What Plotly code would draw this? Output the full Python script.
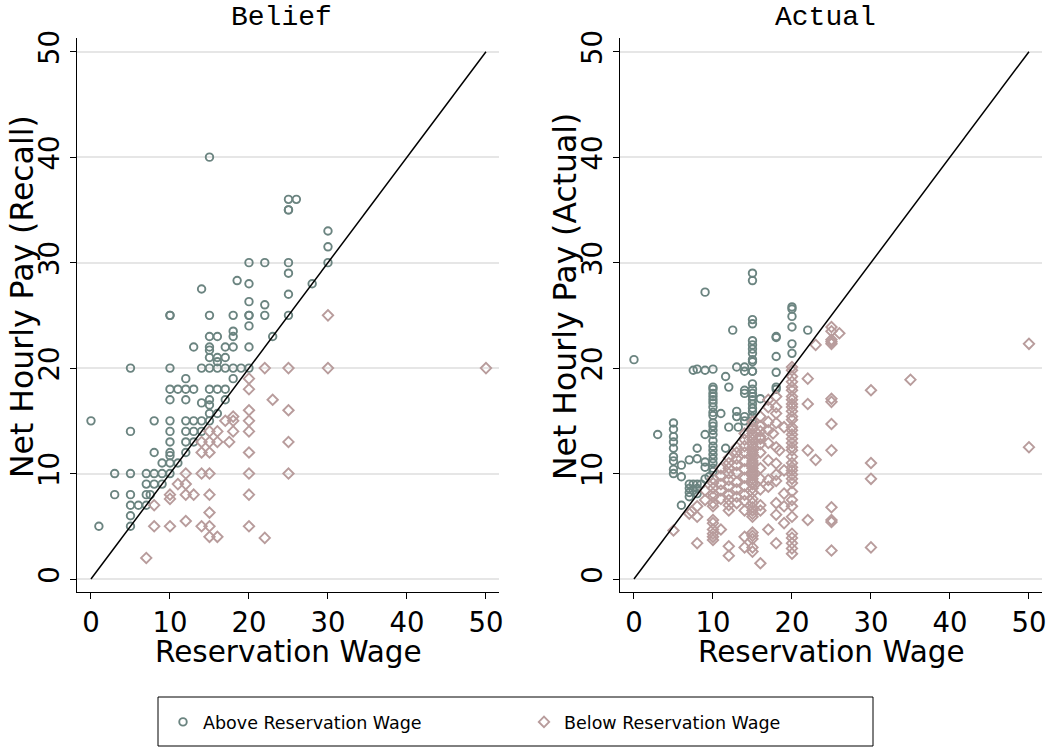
import plotly.graph_objects as go

# ---------------- data ----------------
ticks = [0, 10, 20, 30, 40, 50]
diag = [0, 50]

belief_above_x = [15, 25, 26, 25, 25, 30, 30, 30, 28, 20, 22, 25, 25, 25, 18.5, 20, 14, 20, 22, 25, 10, 10, 15, 18, 20, 20, 22,
                  20, 23, 15, 16, 18, 18, 13, 15, 15, 17, 18, 20, 15, 16, 17, 16, 5, 10, 14, 15, 16, 17, 18, 19, 20, 12, 18,
                  10, 11, 12, 13, 15, 16, 17, 10, 12, 15, 17, 14, 15, 15, 16, 0, 8, 10, 12, 13, 14, 15, 5, 10, 12, 13, 14,
                  10, 12, 13, 8, 10, 12, 10, 9, 10, 11, 3, 5, 7, 8, 9, 10, 7, 8, 9, 3, 5, 7, 7.5, 5, 6, 7, 5, 1, 5]
belief_above_y = [40, 36, 36, 35, 35, 33, 31.5, 30, 28, 30, 30, 30, 29, 27, 28.3, 28, 27.5, 26.3, 26, 25, 25, 25, 25, 25, 25, 25, 25,
                  24, 23, 23, 23, 23.5, 23, 22, 22, 21.7, 22, 22, 22, 21, 21, 21, 20.6, 20, 20, 20, 20, 20, 20, 20, 20, 20, 19, 19,
                  18, 18, 18, 18, 18, 18, 18, 17, 17, 17, 17, 16.7, 16.5, 15.7, 15.7, 15, 15, 15, 15, 15, 15, 15, 14, 14, 14, 14, 14,
                  13, 13, 13, 12, 12, 12, 11.7, 11, 11, 11, 10, 10, 10, 10, 10, 10, 9, 9, 9, 8, 8, 8, 8, 7, 7, 7, 6, 5, 5]

belief_below_x = [30, 22, 25, 30, 50, 20, 20, 23, 20, 25, 17, 18, 18, 20, 15, 16, 18, 20, 14, 15, 16, 17.5, 25, 14, 15, 20,
                  12, 14, 15, 20, 25, 11, 12, 10, 12, 13, 15, 20, 10, 8, 15, 8, 10, 12, 14, 15, 20, 15, 16, 22, 7]
belief_below_y = [25, 20, 20, 20, 20, 19, 18, 17, 16, 16, 15, 15, 15.4, 15, 14, 14, 14, 14, 13, 13, 13, 13, 13, 12, 12, 12,
                  10, 10, 10, 10, 10, 9, 9, 8, 8, 8, 8, 8, 7.6, 7, 6.3, 5, 5, 5.5, 5, 5, 5, 4, 4, 3.9, 2]

actual_above_x = ([0, 3] + [5] * 9 + [6, 6, 6, 7, 8, 9, 8, 9, 7.5, 8, 9, 10, 9]
                  + [7, 7.5, 8, 7, 7, 7.5, 7, 8, 8, 8.5, 9, 9, 9.5] + [10] * 21
                  + [11, 11.6, 12, 12.5, 13, 14, 14, 15, 13, 13, 12, 13.2, 14, 14, 14, 14, 11.6]
                  + [15] * 21 + [16] + [18] * 6 + [20] * 6 + [22])
actual_above_y = ([20.8, 13.7] + [14.8, 14.2, 13.5, 13.0, 12.4, 11.6, 11.2, 10.4, 10.0]
                  + [10.8, 9.7, 7.0, 11.3, 11.4, 11.1, 12.4, 13.7, 19.8, 19.9, 19.8, 19.9, 27.2]
                  + [9, 9, 9, 8.6, 8.2, 8.4, 7.8, 8.1, 8.6, 9.0, 9.5, 10.6, 9.7]
                  + [18.2, 18.0, 17.6, 17.3, 17.0, 16.7, 16.3, 15.8, 15.5, 14.8, 14.5, 14.1, 13.7, 13.1, 12.6, 12.2,
                     11.8, 11.4, 11.0, 10.5, 10.2]
                  + [15.7, 19.2, 18.2, 23.6, 20.1, 20.1, 19.7, 19.7, 15.9, 15.4, 14.4, 14.4, 17.9, 17.6, 15.4, 15.0, 12.4]
                  + [29.0, 28.3, 24.6, 24.2, 22.6, 22.2, 21.8, 21.4, 20.8, 20.6, 19.7, 18.5, 18.0, 17.6, 17.3, 17.0,
                     16.6, 16.2, 15.9, 15.4, 15.0]
                  + [17.1] + [23.0, 22.9, 21.1, 19.6, 18.2, 18.0] + [25.8, 25.6, 24.9, 23.9, 22.3, 21.4] + [23.6])

actual_below_x = ([50, 50, 35, 30, 30, 30, 30] + [25] * 13 + [26, 23, 22, 22, 22, 23, 22] + [20] * 36
                  + [17, 18, 17, 18, 16, 17, 18, 18, 17, 19, 17.6, 16, 17, 18, 18.4, 17, 18, 19, 18, 17, 18, 17,
                     19, 18, 19, 18, 19, 17, 18, 16]
                  + [15] * 35 + [10] * 13 + [11] * 6 + [12] * 12 + [13] * 9 + [14] * 13 + [16] * 10
                  + [5, 7, 7.3, 8, 8, 8, 9, 9])
actual_below_y = ([22.3, 12.5, 18.9, 17.9, 11, 9.5, 3]
                  + [23.9, 23.5, 22.7, 22.5, 22.3, 17.1, 16.8, 14.7, 12.2, 6.8, 5.6, 5.4, 2.7]
                  + [23.3, 22.2, 19, 16.6, 12.2, 11.3, 5.6]
                  + [20.1, 19.8, 19.2, 18.7, 18.2, 17.9, 17.3, 17.0, 16.6, 16.3, 15.9, 15.4, 15.1, 14.4, 14.1, 13.7,
                     13.3, 12.9, 12.5, 12.2, 11.6, 11.0, 10.6, 10.3, 9.9, 9.5, 9.1, 8.3, 7.5, 6.9, 5.9, 4.3, 3.9, 3.4,
                     2.9, 2.4]
                  + [17, 17.3, 16.3, 16.3, 15.4, 14.9, 15.7, 14.8, 14.1, 14.4, 13.8, 13.3, 12.9, 12.5, 12.2, 11.25,
                     10.96, 10.3, 9.9, 9.4, 9.3, 8.75, 8.1, 7.2, 6.9, 6.1, 5.3, 4.7, 3.4, 1.5]
                  + [14.9, 14.5, 14.2, 13.8, 13.5, 13.2, 12.8, 12.5, 12.2, 12.0, 11.8, 11.5, 11.2, 11.0, 10.8, 10.5,
                     10.2, 10.0, 9.8, 9.5, 9.2, 9.0, 8.6, 8.2, 7.6, 7.2, 6.8, 6.5, 6.2, 5.9, 4.4, 4.1, 3.8, 3.0, 2.6]
                  + [9.5, 9.1, 8.6, 8.1, 7.8, 7.2, 6.9, 5.6, 5.3, 4.7, 4.3, 4.0, 3.7]
                  + [10.5, 9.8, 9.0, 8.4, 7.6, 4.7]
                  + [11.5, 11.0, 10.5, 10.0, 9.4, 8.8, 8.0, 7.5, 7.0, 6.5, 3.1, 2.2]
                  + [12.5, 12.0, 11.4, 10.8, 10.1, 9.2, 8.5, 7.8, 7.2]
                  + [13.8, 13.2, 12.6, 12.0, 11.2, 10.4, 9.6, 8.8, 8.0, 7.4, 6.5, 4.0, 3.0]
                  + [14.5, 14.0, 13.5, 12.8, 12.0, 10.5, 9.5, 8.5, 7.0, 6.5]
                  + [4.6, 6.2, 6.4, 6.9, 5.9, 3.4, 8.4, 7.5])

panel_titles = ["Belief", "Actual"]
y_titles = ["Net Hourly Pay (Recall)", "Net Hourly Pay (Actual)"]
x_title = "Reservation Wage"
legend_names = ["Above Reservation Wage", "Below Reservation Wage"]

# ---------------- style ----------------
W, H = 1050, 748
C_ABOVE = "#6b8480"
C_BELOW = "#b89c9c"
FONT = "DejaVu Sans"

fig = go.Figure()

panels = [
    (belief_above_x, belief_above_y, belief_below_x, belief_below_y, "x", "y"),
    (actual_above_x, actual_above_y, actual_below_x, actual_below_y, "x2", "y2"),
]
for i, (ax, ay, bx, by, xa, ya) in enumerate(panels):
    fig.add_trace(go.Scatter(
        x=ax, y=ay, mode="markers", xaxis=xa, yaxis=ya, name=legend_names[0],
        showlegend=(i == 0), legendgroup="a",
        marker=dict(symbol="circle-open", size=7.5, color=C_ABOVE, line=dict(width=1.9, color=C_ABOVE))))
    fig.add_trace(go.Scatter(
        x=bx, y=by, mode="markers", xaxis=xa, yaxis=ya, name=legend_names[1],
        showlegend=(i == 0), legendgroup="b",
        marker=dict(symbol="diamond-open", size=8, color=C_BELOW, line=dict(width=1.9, color=C_BELOW))))
    fig.add_trace(go.Scatter(
        x=diag, y=diag, mode="lines", xaxis=xa, yaxis=ya, showlegend=False,
        line=dict(color="black", width=1.5), hoverinfo="skip"))

xr = [-1.77, 51.65]
yr = [-1.23, 51.3]
ydom = [1 - 592 / H, 1 - 38 / H]
xcommon = dict(range=xr, tickvals=ticks, ticks="outside", ticklen=6, tickwidth=1, tickcolor="black",
               showline=True, linecolor="black", linewidth=1, showgrid=False, zeroline=False,
               tickfont=dict(family=FONT, size=27.5, color="black"))
ycommon = dict(range=yr, domain=ydom, tickvals=ticks, ticks="outside", ticklen=6, tickwidth=1, tickcolor="black",
               showline=True, linecolor="black", linewidth=1, showgrid=True, gridcolor="#e6e6e6", gridwidth=1.5,
               zeroline=False, tickangle=-90, tickfont=dict(family=FONT, size=27.5, color="black"))

fig.update_layout(
    width=W, height=H, margin=dict(l=0, r=0, t=0, b=0, autoexpand=False),
    paper_bgcolor="white", plot_bgcolor="white",
    xaxis=dict(domain=[77 / W, 499 / W], anchor="y", **xcommon),
    yaxis=dict(anchor="x", **ycommon),
    xaxis2=dict(domain=[620 / W, 1042 / W], anchor="y2", **xcommon),
    yaxis2=dict(anchor="x2", **ycommon),
    showlegend=True,
    legend=dict(orientation="h", x=163 / W, xanchor="left", y=1 - 722 / H, yanchor="middle",
                bgcolor="rgba(0,0,0,0)", borderwidth=0, entrywidth=316, entrywidthmode="pixels",
                font=dict(family=FONT, size=17.5, color="black")),
)

# legend frame
fig.add_shape(type="rect", xref="paper", yref="paper", x0=158 / W, x1=873 / W, y0=1 - 746 / H, y1=1 - 697 / H,
              line=dict(color="black", width=1), fillcolor="rgba(0,0,0,0)")

# titles
for cx, t in zip([281, 825], panel_titles):
    fig.add_annotation(x=cx / W, y=1 - 18 / H, xref="paper", yref="paper", text=t, showarrow=False,
                       font=dict(family="Liberation Mono", size=28, color="black"), xanchor="center", yanchor="middle")
for cx, t in zip([22, 565], y_titles):
    fig.add_annotation(x=cx / W, y=1 - 297 / H, xref="paper", yref="paper", text=t, showarrow=False, textangle=-90,
                       font=dict(family=FONT, size=31.5, color="black"), xanchor="center", yanchor="middle")
for cx in [288, 831]:
    fig.add_annotation(x=cx / W, y=1 - 652 / H, xref="paper", yref="paper", text=x_title, showarrow=False,
                       font=dict(family=FONT, size=29.5, color="black"), xanchor="center", yanchor="middle")

fig.write_html("out.html")
